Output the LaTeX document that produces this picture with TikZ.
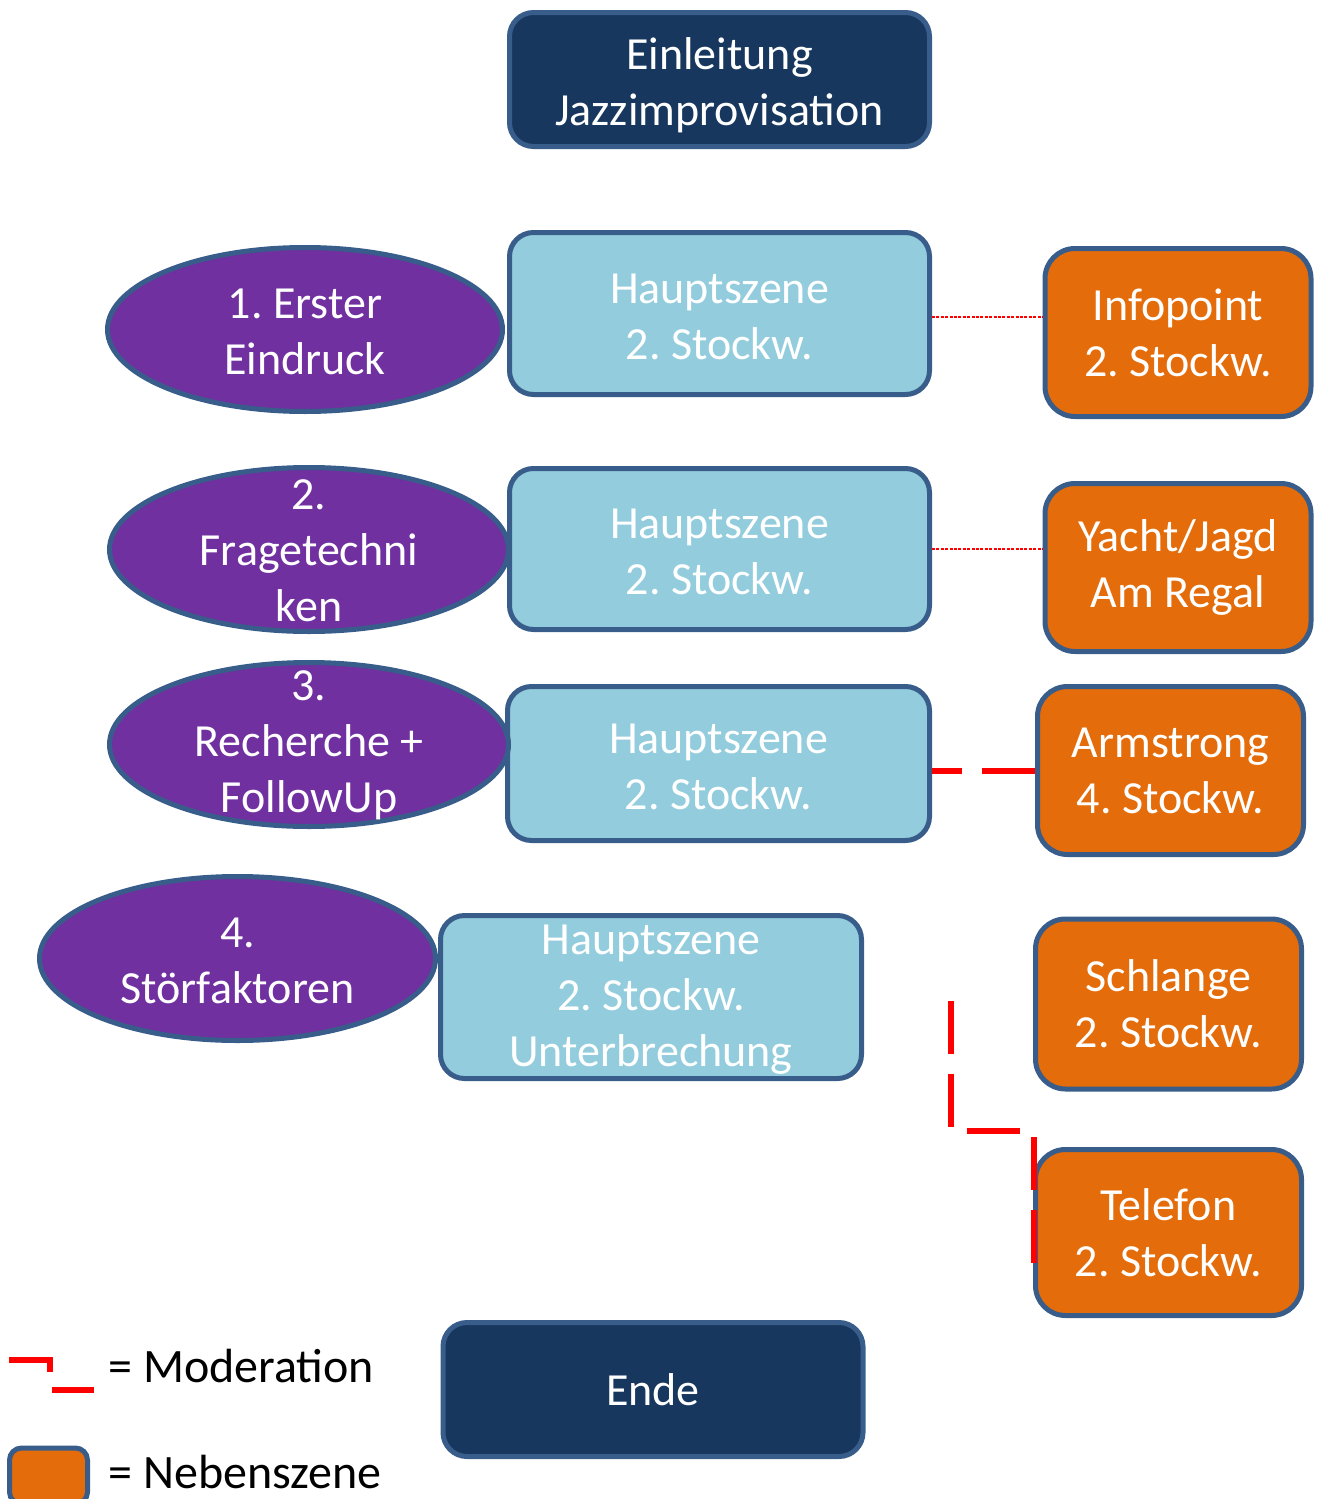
\documentclass[tikz,border=0pt]{standalone}
\usepackage{fontspec}
\setmainfont{Carlito}
\usetikzlibrary{shapes.geometric}
\definecolor{navy}{HTML}{17375E}
\definecolor{edge}{HTML}{385D8A}
\definecolor{lblue}{HTML}{93CDDD}
\definecolor{orng}{HTML}{E46C0A}
\definecolor{purp}{HTML}{7030A0}
\definecolor{modred}{HTML}{FF0000}
\newcommand{\lowertext}[2]{\raisebox{-#1}[\height][\depth]{\parbox{205pt}{\centering #2}}}
\tikzset{
  base/.style={draw=edge, line width=2.5pt, text=white, align=center, inner sep=0pt,
    font=\fontsize{23}{28}\selectfont\frenchspacing},
  darkbox/.style={base, fill=navy, rounded corners=12pt, minimum width=210pt, minimum height=67pt},
  mainbox/.style={base, fill=lblue, rounded corners=12pt, minimum width=210pt},
  sidebox/.style={base, fill=orng, rounded corners=15pt, minimum width=133pt, minimum height=84pt},
  topic/.style={base, fill=purp, ellipse, minimum width=197.5pt, minimum height=82pt},
  topictext/.style={text=white, align=center, inner sep=0pt, font=\fontsize{23}{28}\selectfont\frenchspacing},
  modline/.style={draw=modred, line width=3pt, dash pattern=on 26.5pt off 10pt},
  thinline/.style={draw=modred, line width=0.7pt, dash pattern=on 1.5pt off 0.7pt},
  legtext/.style={text=black, anchor=west, inner sep=0pt, font=\fontsize{24}{28}\selectfont}
}
\begin{document}
\begin{tikzpicture}[x=0.5pt, y=-0.5pt]
\useasboundingbox (0,0) rectangle (1317,1499);
% top / bottom
\node[darkbox] (intro) at (719.5,79.5) {\lowertext{3pt}{Einleitung\\Jazzimprovisation}};
\node[darkbox] (ende) at (653,1389.5) {Ende};
% main scenes
\node[mainbox, minimum height=81pt] (h1) at (719.5,313.5) {\lowertext{1.5pt}{Hauptszene\\2. Stockw.}};
\node[mainbox, minimum height=80.5pt] (h2) at (719.5,549) {\lowertext{1.5pt}{Hauptszene\\2. Stockw.}};
\node[mainbox, minimum width=211pt, minimum height=77pt] (h3) at (718.5,763.5) {\lowertext{1.5pt}{Hauptszene\\2. Stockw.}};
\node[mainbox, minimum width=210.5pt, minimum height=81.5pt] (h4) at (651,997) {\lowertext{1.5pt}{Hauptszene\\2. Stockw.\\Unterbrechung}};
% topics
\node[topic] (e1) at (305,329.5) {};
\node[topic, minimum width=199.5pt] (e2) at (309,549.5) {};
\node[topic, minimum width=199.5pt] (e3) at (309,744.5) {};
\node[topic, minimum width=198pt] (e4) at (237.5,958.5) {};
\node[topictext] (e1t) at (305,332) {1. Erster\\Eindruck};
\node[topictext] (e2t) at (309,551) {2.\\Fragetechni\\ken};
\node[topictext] (e3t) at (309,745) {3.\\Recherche +\\FollowUp};
\node[topictext] (e4t) at (237.5,960.5) {4.\\Störfaktoren};
% side scenes
\node[sidebox] (o1) at (1178,332.5) {Infopoint\\2. Stockw.};
\node[sidebox] (o2) at (1178,567.5) {Yacht/Jagd\\Am Regal};
\node[sidebox, minimum width=133pt] (o3) at (1170.5,770.5) {Armstrong\\4. Stockw.};
\node[sidebox, minimum width=133pt, minimum height=85pt] (o4) at (1168.5,1004) {Schlange\\2. Stockw.};
\node[sidebox, minimum width=133pt, minimum height=83pt] (o5) at (1168.5,1232.5) {Telefon\\2. Stockw.};
% connectors
\coordinate (c1) at (0,317);
\coordinate (c3) at (0,771);
\coordinate (c6) at (0,1131);
\coordinate (m0) at (951,1001);
\coordinate (m1) at (1034,1266);
\draw[thinline] (h1.east |- c1) -- (o1.west |- c1);
\draw[thinline] (h2.east) -- (h2.east -| o2.west);
\draw[modline] (o3.west |- c3) -- (h3.east |- c3);
\draw[modline] (m0) |- (m1 |- c6) -- (m1);
% legend
\coordinate (l0) at (9,1360);
\coordinate (l1) at (50,1390);
\coordinate (l2) at (94,1390);
\draw[modline] (l0) -| (l1) -- (l2);
\node[legtext] (lt1) at (108,1366) {= Moderation};
\node[draw=edge, line width=2.5pt, fill=orng, rounded corners=6pt, minimum width=39pt, minimum height=28pt, inner sep=0pt] (lbox) at (48.5,1476) {};
\node[legtext] (lt2) at (108,1472) {= Nebenszene};
\end{tikzpicture}
\end{document}
